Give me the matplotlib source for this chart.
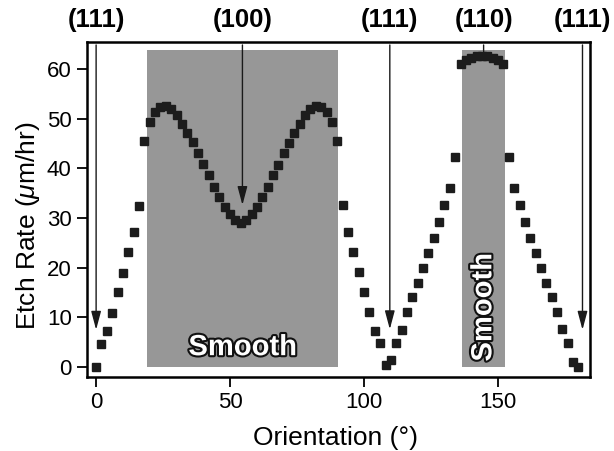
import matplotlib
matplotlib.use("Agg")
import matplotlib.pyplot as plt
import matplotlib.patheffects as pe
from matplotlib.patches import Rectangle

plt.rcParams['font.family'] = ['Liberation Sans', 'DejaVu Sans']
plt.rcParams['mathtext.fontset'] = 'custom'
plt.rcParams['mathtext.rm'] = 'Liberation Sans'
plt.rcParams['mathtext.it'] = 'Liberation Sans:italic'

# orientation (deg), sampled every 2 degrees
orientation = list(range(0, 182, 2))
etch_rate = [
    0.0, 4.7, 7.2, 10.9, 15.1, 19.0, 23.1, 27.1, 32.5, 45.5,      # 0-18
    49.4, 51.4, 52.4, 52.5, 52.0, 50.8, 49.0, 47.1, 45.2, 43.0,   # 20-38
    40.8, 38.6, 36.3, 34.3, 32.3, 30.8, 29.6, 28.9, 29.6, 30.7,   # 40-58
    32.3, 34.3, 36.3, 38.6, 40.7, 43.0, 45.1, 47.1, 49.0, 50.8,   # 60-78
    52.0, 52.5, 52.4, 51.4, 49.4, 45.5, 32.6, 27.2, 23.2, 19.2,   # 80-98
    15.2, 11.1, 7.3, 4.9, 0.4, 1.4, 4.9, 7.4, 11.1, 14.0,         # 100-118
    16.9, 19.9, 22.9, 25.9, 29.2, 32.6, 36.0, 42.2, 61.0, 61.7,   # 120-138
    62.2, 62.5, 62.6, 62.5, 62.2, 61.7, 61.0, 42.2, 36.0, 32.6,   # 140-158
    29.2, 25.9, 22.9, 19.9, 17.0, 14.0, 11.1, 7.6, 4.8, 1.1,      # 160-178
    0.0,                                                          # 180
]

# crystal planes marked with arrows
plane_labels = ['(111)', '(100)', '(111)', '(110)', '(111)']
plane_pos = [0.0, 54.6, 109.6, 144.6, 181.5]
arrow_tip = [7.5, 32.6, 7.6, 62.5, 7.5]
arrow_head = [True, True, True, False, True]  # (110) head is hidden by the data

# smooth regions (shaded)
smooth_start = [18.9, 136.5]
smooth_end = [90.4, 152.5]
smooth_top = 63.8

fig = plt.figure(figsize=(6.14, 4.51), dpi=100)
ax = fig.add_axes([0.1417, 0.1641, 0.8192, 0.7428])

for x0, x1 in zip(smooth_start, smooth_end):
    ax.add_patch(Rectangle((x0, 0), x1 - x0, smooth_top,
                           facecolor='#979797', edgecolor='none', zorder=1))

for xp, tip, head in zip(plane_pos, arrow_tip, arrow_head):
    style = '-|>,head_length=0.75,head_width=0.2' if head else '-'
    ax.annotate('', xy=(xp, tip), xytext=(xp, 64.8),
                arrowprops=dict(arrowstyle=style, mutation_scale=15, lw=1.0,
                                color='#1a1a1a', shrinkA=0, shrinkB=0),
                zorder=2)

ax.plot(orientation, etch_rate, linestyle='none', marker='s', markersize=6.3,
        color='#1c1c1c', zorder=3)

for lab, xp in zip(plane_labels, plane_pos):
    ax.text(xp, 69.8, lab, ha='center', va='center', fontsize=18.5,
            fontweight='bold', clip_on=False)

outline = [pe.withStroke(linewidth=3, foreground='#111111')]
ax.text((smooth_start[0] + smooth_end[0]) / 2, 4.0, 'Smooth', ha='center',
        va='center', fontsize=21, fontweight='bold', color='white',
        path_effects=outline, zorder=4)
ax.text((smooth_start[1] + smooth_end[1]) / 2, 12.0, 'Smooth', ha='center',
        va='center', fontsize=21, fontweight='bold', color='white',
        rotation=90, path_effects=outline, zorder=4)

ax.set_xlim(-3.4, 184.3)
ax.set_ylim(-2.0, 65.4)
ax.set_xticks([0, 50, 100, 150])
ax.set_yticks([0, 10, 20, 30, 40, 50, 60])
ax.tick_params(direction='out', length=7, width=1.3, labelsize=16, pad=4)
for sp in ax.spines.values():
    sp.set_linewidth(1.8)

ax.set_xlabel('Orientation (°)', fontsize=19)
ax.set_ylabel(r'Etch Rate ($\mu$m/hr)', fontsize=19)
ax.xaxis.set_label_coords(0.495, -0.145)
ax.yaxis.set_label_coords(-0.09, 0.45)

fig.savefig('out.png', dpi=100)
